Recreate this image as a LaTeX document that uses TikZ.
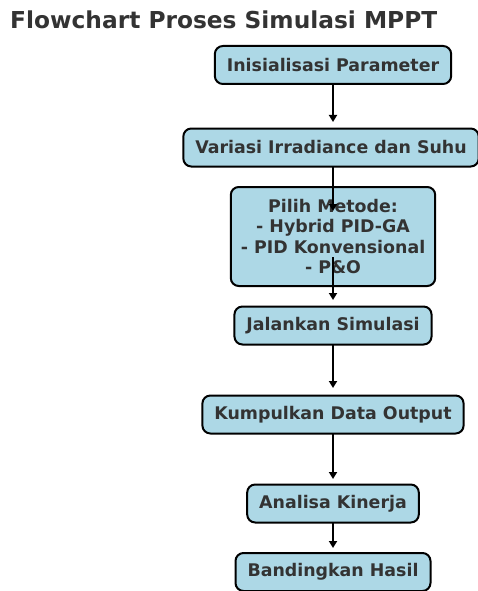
\documentclass[tikz,border=0pt]{standalone}
\usepackage{fontspec}
\setmainfont{DejaVu Sans}
\usetikzlibrary{arrows.meta}
\definecolor{boxfill}{HTML}{ADD8E6}
\definecolor{txt}{HTML}{333333}
\tikzset{
  stepbox/.style={draw=black, line width=2pt, rounded corners=8pt, fill=boxfill,
    text=txt, font=\fontsize{17.4}{20.3}\selectfont\bfseries, align=center,
    inner xsep=12pt, minimum height=38pt},
  flowarrow/.style={draw=black, line width=2pt, -{Triangle[length=7pt,width=8pt]}},
}
\begin{document}
\begin{tikzpicture}[x=1pt,y=1pt]
\useasboundingbox (0,0) rectangle (478,-591);
\clip (0,0) rectangle (478,-591);
\node[anchor=base west, text=txt, font=\fontsize{23.3}{28}\selectfont\bfseries, inner sep=0pt] (title) at (10,-29) {Flowchart Proses Simulasi MPPT};
\node[stepbox] (n1) at (333,-65) {Inisialisasi Parameter};
\node[stepbox] (n2) at (331,-147.5) {Variasi Irradiance dan Suhu};
\node[stepbox, minimum height=99pt, inner xsep=10pt] (n3) at (333,-236.5) {Pilih Metode:\\- Hybrid PID-GA\\- PID Konvensional\\- P\&O};
\node[stepbox] (n4) at (333,-325.5) {Jalankan Simulasi};
\node[stepbox] (n5) at (333,-414.5) {Kumpulkan Data Output};
\node[stepbox] (n6) at (333,-503.5) {Analisa Kinerja};
\node[stepbox] (n7) at (333,-572) {Bandingkan Hasil};
\draw[flowarrow] ([yshift=-19.5pt]n1.center) -- ([xshift=2pt,yshift=25.5pt]n2.center);
\draw[flowarrow] ([xshift=2pt,yshift=-19.5pt]n2.center) -- ([yshift=25.5pt]n3.center);
\draw[flowarrow] ([yshift=-20.5pt]n3.center) -- ([yshift=25.5pt]n4.center);
\draw[flowarrow] ([yshift=-19.5pt]n4.center) -- ([yshift=26.5pt]n5.center);
\draw[flowarrow] ([yshift=-19.5pt]n5.center) -- ([yshift=24.5pt]n6.center);
\draw[flowarrow] ([yshift=-19.5pt]n6.center) -- ([yshift=24pt]n7.center);
\end{tikzpicture}
\end{document}
